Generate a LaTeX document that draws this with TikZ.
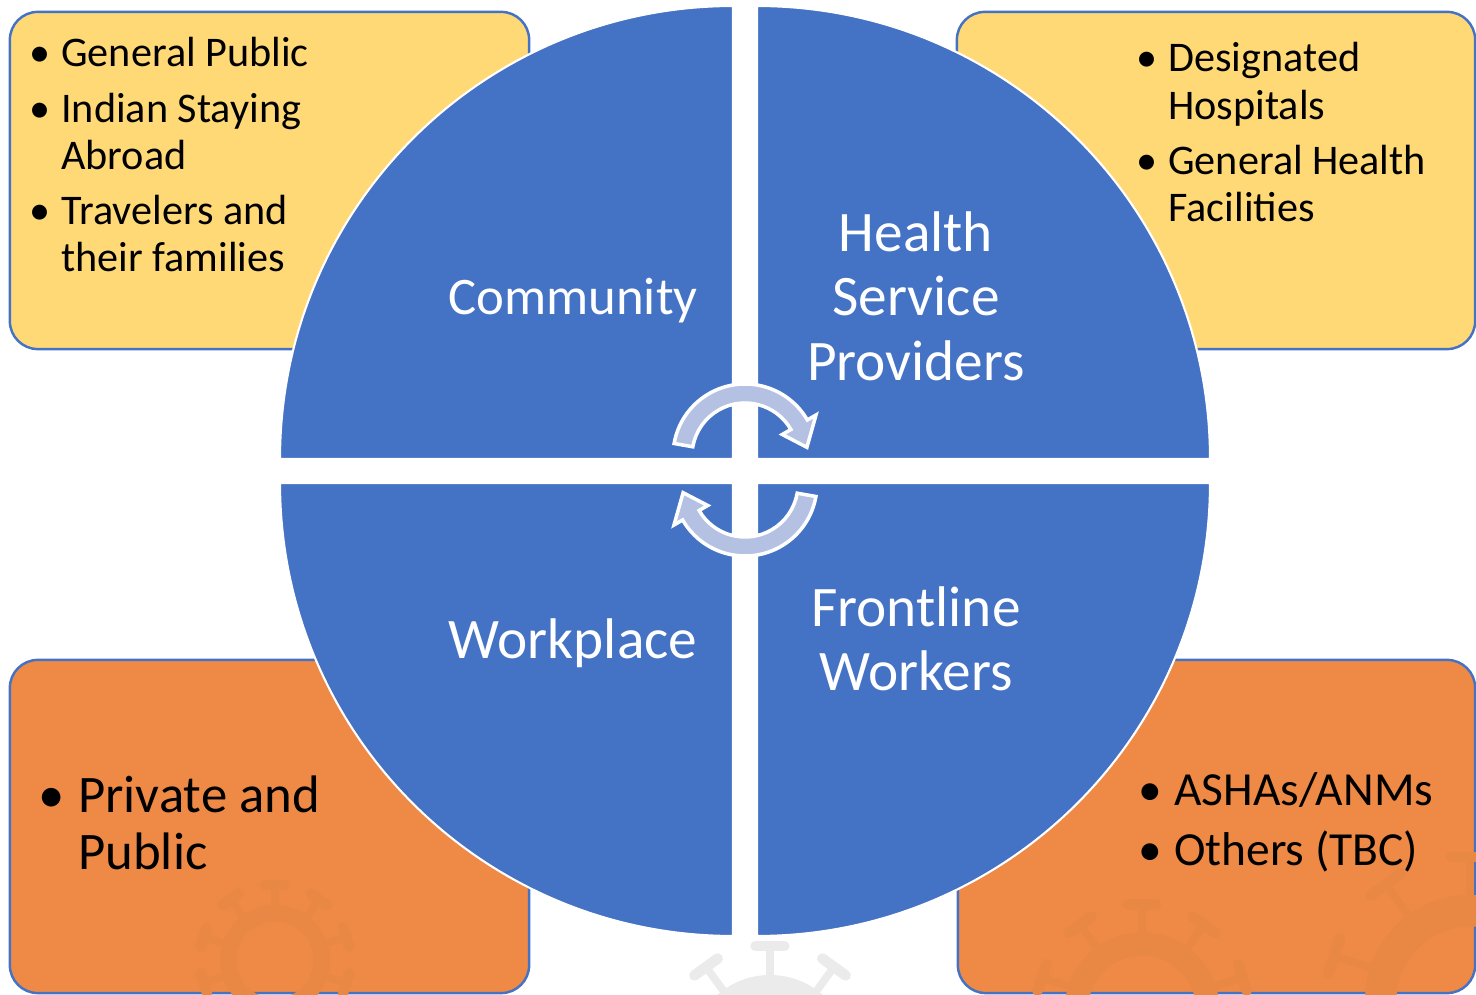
\documentclass[tikz,border=0pt]{standalone}
\usepackage{fontspec}
\setmainfont{Carlito}
\usetikzlibrary{calc}
\definecolor{qblue}{HTML}{4472C4}
\definecolor{byellow}{HTML}{FFD976}
\definecolor{borange}{HTML}{EE8A46}
\definecolor{turngrey}{HTML}{B4C1E2}
\newcommand{\bl}{\makebox[0.75em][l]{\textbullet}}
\begin{document}
\begin{tikzpicture}[x=0.01cm, y=-0.01cm,
  box/.style={draw=qblue, line width=0.7pt, rounded corners=0.28cm, minimum width=5.19cm, minimum height=3.37cm},
  quad/.style={fill=qblue, draw=white, line width=0.6pt},
  lbl/.style={text=white, align=center, inner sep=0pt},
  lst/.style={anchor=base west, inner sep=0pt},
  turn/.style={fill=turngrey, draw=white, line width=1pt},
  virus/.pic={
    \fill[even odd rule] (0,0) circle[radius=50] (0,0) circle[radius=35];
    \foreach \a in {18,54,...,342}{
      \draw[line width=2.2pt] (\a:48) -- (\a:68);
      \draw[line width=3pt, line cap=round] ($(\a:68)+(\a+90:9)$) -- ($(\a:68)+(\a-90:9)$);
    }}]
\useasboundingbox (0,0) rectangle (1476,995);

\node[box, fill=byellow] (cbox) at (269.5,180.5) {};
\node[box, fill=byellow, minimum width=5.18cm] (hbox) at (1216,180.5) {};
\node[box, fill=borange, minimum height=3.33cm] (wbox) at (269.5,826.5) {};
\node[box, fill=borange, minimum width=5.17cm, minimum height=3.33cm] (fbox) at (1216.5,826.5) {};

\pic[color=borange!98!black, scale=1.1] at (275,960) {virus};
\pic[color=borange!98!black, scale=1.55] at (1142,1010) {virus};
\pic[color=borange!98!black, scale=2.1] at (1470,1000) {virus};
\pic[color=black!8, scale=1.6] at (770,1055) {virus};

\draw[quad] (733,459) -- (280,459) arc[start angle=180, end angle=270, radius=453] -- cycle;
\draw[quad] (757,459) -- (757,6) arc[start angle=270, end angle=360, radius=453] -- cycle;
\draw[quad] (757,483) -- (1210,483) arc[start angle=0, end angle=90, radius=453] -- cycle;
\draw[quad] (733,483) -- (733,936) arc[start angle=90, end angle=180, radius=453] -- cycle;

\node[lbl, font=\fontsize{15}{18.3}\selectfont, anchor=base] (com) at (573,315) {Community};
\node[lbl, font=\fontsize{16.3}{18.35}\selectfont] (hsp) at (916,296) {Health\\Service\\Providers};
\node[lbl, font=\fontsize{16.3}{18.35}\selectfont, anchor=base] (wrk) at (573,659) {Workplace};
\node[lbl, font=\fontsize{16.3}{18.35}\selectfont] (flw) at (916,639) {Frontline\\Workers};

\node[lst, font=\fontsize{12}{13.4}\selectfont] (clist) at (29,67) {\begin{tabular}[t]{@{}l@{}l@{}}
\bl & General Public\\[2.3pt]
\bl & Indian Staying\\
    & Abroad\\[2.3pt]
\bl & Travelers and\\
    & their families
\end{tabular}};
\node[lst, font=\fontsize{12}{13.4}\selectfont] (hlist) at (1136,72) {\begin{tabular}[t]{@{}l@{}l@{}}
\bl & Designated\\
    & Hospitals\\[2.3pt]
\bl & General Health\\
    & Facilities
\end{tabular}};
\node[lst, font=\fontsize{15}{16.2}\selectfont] (wlist) at (38,813) {\begin{tabular}[t]{@{}l@{}l@{}}
\bl & Private and\\
    & Public
\end{tabular}};
\node[lst, font=\fontsize{13.5}{15}\selectfont] (flist) at (1138,806) {\begin{tabular}[t]{@{}l@{}l@{}}
\bl & ASHAs/ANMs\\[1.8pt]
\bl & Others (TBC)
\end{tabular}};

\coordinate (ta) at (745,456);
\coordinate (tb) at (745,484);
\draw[turn] ($(ta)+(190:72)$) arc[start angle=190, end angle=330, radius=72] -- ($(ta)+(330:82)$) -- ($(ta)+(352:62.5)$) -- ($(ta)+(330:43)$) -- ($(ta)+(330:53)$) arc[start angle=330, end angle=190, radius=53] -- cycle;
\draw[turn] ($(tb)+(10:72)$) arc[start angle=10, end angle=150, radius=72] -- ($(tb)+(150:82)$) -- ($(tb)+(172:62.5)$) -- ($(tb)+(150:43)$) -- ($(tb)+(150:53)$) arc[start angle=150, end angle=10, radius=53] -- cycle;
\end{tikzpicture}
\end{document}
